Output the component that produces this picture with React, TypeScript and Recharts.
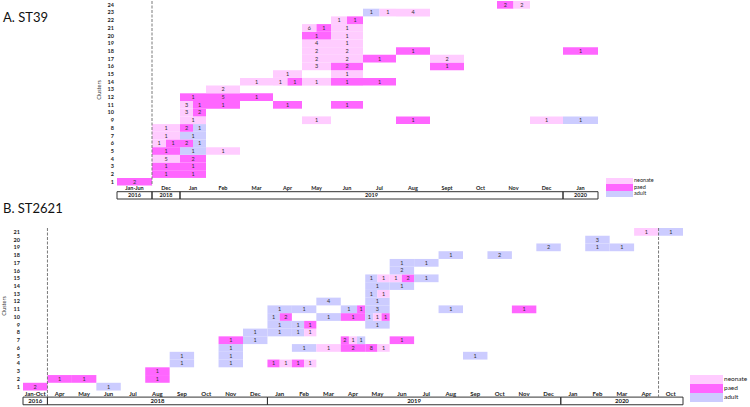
import { ReferenceArea, ReferenceLine, Scatter, ScatterChart, XAxis, YAxis } from "recharts";

type Group = "neonate" | "paed" | "adult";
// [cluster, month column, group, isolates, from, to] – from/to = share of the month (defaults to whole month)
type Cell = [number, number, Group, number, number?, number?];
// [label, first month column, column after the last month]
type Year = [string, number, number];

const FONT = "Lato, 'Open Sans', sans-serif";

const GROUPS: Group[] = ["neonate", "paed", "adult"];
const GROUP_COLORS: Record<Group, string> = {
  neonate: "#ffccff",
  paed: "#ff66ff",
  adult: "#ccccff"
};

// ---- ST39 ----
const MONTHS_ST39 = ["Jan-Jun", "Dec", "Jan", "Feb", "Mar", "Apr", "May", "Jun", "Jul", "Aug", "Sept", "Oct", "Nov", "Dec", "Jan"];
const YEARS_ST39: Year[] = [["2016", 0, 1], ["2018", 1, 2], ["2019", 2, 14], ["2020", 14, 15]];
const CLUSTERS_ST39 = [1, 2, 3, 4, 5, 6, 7, 8, 9, 10, 11, 12, 13, 14, 15, 16, 17, 18, 19, 20, 21, 22, 23, 24];
const CELLS_ST39: Cell[] = [
  [1, 0, "paed", 2],
  [2, 1, "paed", 1], [2, 2, "paed", 1],
  [3, 1, "paed", 1], [3, 2, "paed", 1],
  [4, 1, "neonate", 5], [4, 2, "paed", 2],
  [5, 1, "paed", 1], [5, 2, "adult", 1], [5, 3, "neonate", 1],
  [6, 1, "neonate", 1, 0, 0.5], [6, 1, "paed", 1, 0.5, 1], [6, 2, "paed", 2, 0, 0.5], [6, 2, "adult", 1, 0.5, 1],
  [7, 1, "neonate", 1], [7, 2, "adult", 1],
  [8, 1, "neonate", 1], [8, 2, "paed", 2, 0, 0.5], [8, 2, "adult", 1, 0.5, 1],
  [9, 2, "neonate", 1], [9, 6, "neonate", 1], [9, 9, "paed", 1], [9, 13, "neonate", 1], [9, 14, "adult", 1],
  [10, 2, "neonate", 3, 0, 0.5], [10, 2, "paed", 2, 0.5, 1],
  [11, 2, "neonate", 3, 0, 0.5], [11, 2, "paed", 1, 0.5, 1], [11, 3, "paed", 1], [11, 5, "paed", 1], [11, 7, "paed", 1],
  [12, 2, "paed", 1], [12, 3, "paed", 5], [12, 4, "paed", 1],
  [13, 3, "neonate", 2],
  [14, 4, "neonate", 1], [14, 5, "neonate", 1, 0, 0.5], [14, 5, "paed", 1, 0.5, 1], [14, 6, "neonate", 1], [14, 7, "paed", 1], [14, 8, "paed", 1],
  [15, 5, "neonate", 1], [15, 7, "neonate", 1],
  [16, 6, "neonate", 3], [16, 7, "paed", 2], [16, 10, "paed", 1],
  [17, 6, "neonate", 2], [17, 7, "neonate", 2], [17, 8, "paed", 1], [17, 10, "neonate", 2],
  [18, 6, "neonate", 2], [18, 7, "neonate", 2], [18, 9, "paed", 1], [18, 14, "paed", 1],
  [19, 6, "neonate", 4], [19, 7, "neonate", 1],
  [20, 6, "paed", 1], [20, 7, "neonate", 1],
  [21, 6, "neonate", 6, 0, 0.5], [21, 6, "paed", 1, 0.5, 1], [21, 7, "neonate", 1],
  [22, 7, "neonate", 1, 0, 0.5], [22, 7, "paed", 1, 0.5, 1],
  [23, 8, "adult", 1, 0, 0.5], [23, 8, "neonate", 1, 0.5, 1], [23, 9, "neonate", 4],
  [24, 12, "paed", 2, 0, 0.5], [24, 12, "neonate", 2, 0.5, 1]
];

// ---- ST2621 ----
const MONTHS_ST2621 = [
  "Jan-Oct", "Apr", "May", "Jun", "Jul", "Aug", "Sep", "Oct", "Nov", "Dec",
  "Jan", "Feb", "Mar", "Apr", "May", "Jun", "Jul", "Aug", "Sep", "Oct", "Nov", "Dec",
  "Jan", "Feb", "Mar", "Apr", "Oct"
];
const YEARS_ST2621: Year[] = [["2016", 0, 1], ["2018", 1, 10], ["2019", 10, 22], ["2020", 22, 27]];
const CLUSTERS_ST2621 = [1, 2, 3, 4, 5, 6, 7, 8, 9, 10, 11, 12, 13, 14, 15, 16, 17, 18, 19, 20, 21];
const CELLS_ST2621: Cell[] = [
  [1, 0, "paed", 2], [1, 3, "adult", 1],
  [2, 1, "paed", 1], [2, 2, "paed", 1], [2, 5, "paed", 1],
  [3, 5, "paed", 1],
  [4, 6, "adult", 1], [4, 8, "adult", 1], [4, 10, "paed", 1, 0, 0.5], [4, 10, "neonate", 1, 0.5, 1], [4, 11, "paed", 1, 0, 0.5], [4, 11, "neonate", 1, 0.5, 1],
  [5, 6, "adult", 1], [5, 8, "adult", 1], [5, 18, "adult", 1],
  [6, 8, "adult", 1], [6, 11, "adult", 1], [6, 12, "neonate", 1], [6, 13, "paed", 2], [6, 14, "paed", 8, 0, 0.5], [6, 14, "neonate", 1, 0.5, 1],
  [7, 8, "paed", 1], [7, 9, "adult", 1], [7, 13, "paed", 2, 0, 1 / 3], [7, 13, "neonate", 1, 1 / 3, 2 / 3], [7, 13, "adult", 1, 2 / 3, 1], [7, 15, "paed", 1],
  [8, 9, "adult", 1], [8, 10, "adult", 1], [8, 11, "adult", 1, 0, 0.5], [8, 11, "neonate", 1, 0.5, 1],
  [9, 10, "adult", 1], [9, 11, "adult", 1, 0, 0.5], [9, 11, "paed", 1, 0.5, 1], [9, 14, "adult", 1],
  [10, 10, "adult", 1, 0, 0.5], [10, 10, "paed", 2, 0.5, 1], [10, 12, "adult", 1], [10, 13, "paed", 1],
  [10, 14, "adult", 1, 0, 1 / 3], [10, 14, "neonate", 1, 1 / 3, 2 / 3], [10, 14, "paed", 1, 2 / 3, 1],
  [11, 10, "adult", 1], [11, 11, "adult", 1], [11, 13, "adult", 1, 0, 2 / 3], [11, 13, "paed", 1, 2 / 3, 1], [11, 14, "adult", 3], [11, 17, "adult", 1], [11, 20, "paed", 1],
  [12, 12, "adult", 4], [12, 14, "adult", 1],
  [13, 14, "adult", 1, 0, 0.5], [13, 14, "neonate", 1, 0.5, 1],
  [14, 14, "adult", 1], [14, 15, "adult", 1],
  [15, 14, "adult", 1, 0, 0.5], [15, 14, "neonate", 1, 0.5, 1], [15, 15, "neonate", 1, 0, 0.5], [15, 15, "paed", 2, 0.5, 1], [15, 16, "adult", 1],
  [16, 15, "adult", 2],
  [17, 15, "adult", 1], [17, 16, "adult", 1],
  [18, 17, "adult", 1], [18, 19, "adult", 2],
  [19, 21, "adult", 2], [19, 23, "adult", 1], [19, 24, "adult", 1],
  [20, 23, "adult", 3],
  [21, 25, "neonate", 1], [21, 26, "adult", 1]
];

interface PanelLayout {
  top: number;
  height: number;
  plotLeft: number;
  plotRight: number;
  colWidths: number[];
  monthRow: number;
  yearRow: [number, number];
  dividers: [number, number][]; // [column edge, where the dashes stop]
  monthFont: number;
}

const LAYOUT_ST39: PanelLayout = {
  top: 0,
  height: 202,
  plotLeft: 117,
  plotRight: 598,
  colWidths: [35, 28, 26, 34, 33, 29, 29, 32, 33, 34, 34, 33, 33, 33, 35],
  monthRow: 0.19,
  yearRow: [-0.29, -1.24],
  dividers: [[1, 0.5]],
  monthFont: 5.5
};

const LAYOUT_ST2621: PanelLayout = {
  top: 227,
  height: 180,
  plotLeft: 23,
  plotRight: 683,
  colWidths: MONTHS_ST2621.map(() => 1),
  monthRow: 0.08,
  yearRow: [-0.35, -1.34],
  dividers: [[1, -0.35], [26, -0.35]],
  monthFont: 6
};

interface PanelProps {
  months: string[];
  years: Year[];
  clusters: number[];
  cells: Cell[];
  layout: PanelLayout;
}

function CountText(props: any) {
  return (
    <text x={props.cx} y={props.cy} dy="0.35em" textAnchor="middle" fontSize={5.5} fill="#333" fontFamily={FONT}>
      {props.payload.n}
    </text>
  );
}

function ClusterPanel({ months, years, clusters, cells, layout }: PanelProps) {
  const { colWidths } = layout;
  const edges = colWidths.reduce<number[]>((acc, w) => [...acc, acc[acc.length - 1] + w], [0]);
  const xAt = (m: number, f: number) => edges[m] + f * colWidths[m];
  const top = clusters[clusters.length - 1] + 0.5;

  const boxes = cells.map(([cluster, m, group, n, from = 0, to = 1]) => {
    const x1 = xAt(m, from);
    const x2 = xAt(m, to);
    return { x1, x2, x: (x1 + x2) / 2, y: cluster, group, n };
  });
  const monthLabels = months.map((label, i) => ({ x: (edges[i] + edges[i + 1]) / 2, y: layout.monthRow, label }));

  return (
    <div style={{ position: "absolute", left: 0, top: layout.top }}>
      <ScatterChart
        width={750}
        height={layout.height}
        margin={{ top: 1, right: 750 - layout.plotRight, bottom: 1, left: 0 }}
      >
        <XAxis type="number" dataKey="x" domain={[0, edges[edges.length - 1]]} hide />
        <YAxis
          type="number"
          dataKey="y"
          domain={[-1.5, top]}
          ticks={clusters}
          interval={0}
          width={layout.plotLeft}
          axisLine={false}
          tickLine={false}
          tickSize={0}
          tickMargin={3}
          tick={{ fontSize: 5.5, fontWeight: 700, fill: "#222", fontFamily: FONT }}
        />
        {boxes.map((b, i) => (
          <ReferenceArea
            key={`c${i}`}
            x1={b.x1}
            x2={b.x2}
            y1={b.y - 0.5}
            y2={b.y + 0.5}
            fill={GROUP_COLORS[b.group]}
            fillOpacity={1}
            stroke="none"
          />
        ))}
        {years.map(([label, from, to]) => (
          <ReferenceArea
            key={`y${label}`}
            x1={edges[from]}
            x2={edges[to]}
            y1={layout.yearRow[1]}
            y2={layout.yearRow[0]}
            fill="#fff"
            fillOpacity={0}
            stroke="#333"
            strokeWidth={1}
            label={{ value: label, position: "center", fontSize: layout.monthFont, fontWeight: 700, fill: "#222", fontFamily: FONT }}
          />
        ))}
        {layout.dividers.map(([col, stop]) => (
          <ReferenceLine
            key={`d${col}`}
            segment={[{ x: edges[col], y: top }, { x: edges[col], y: stop }]}
            stroke="#7a7a7a"
            strokeDasharray="3 1.5"
          />
        ))}
        <Scatter data={boxes} shape={CountText} isAnimationActive={false} />
        <Scatter
          data={monthLabels}
          isAnimationActive={false}
          shape={(p: any) => (
            <text x={p.cx} y={p.cy} dy="0.35em" textAnchor="middle" fontSize={layout.monthFont} fontWeight={700} fill="#222" fontFamily={FONT}>
              {p.payload.label}
            </text>
          )}
        />
      </ScatterChart>
    </div>
  );
}

function GroupLegend({ left, top, w, h, fontSize }: { left: number; top: number; w: number; h: number; fontSize: number }) {
  return (
    <div style={{ position: "absolute", left, top, fontFamily: FONT }}>
      {GROUPS.map((g) => (
        <div key={g} style={{ display: "flex", alignItems: "center", height: h }}>
          <span style={{ width: w, height: h, background: GROUP_COLORS[g] }} />
          <span style={{ fontSize, lineHeight: 1, marginLeft: 1, color: "#222" }}>{g}</span>
        </div>
      ))}
    </div>
  );
}

export default function App() {
  return (
    <div style={{ position: "absolute", left: 0, top: 0, width: 750, height: 407, background: "#fff", overflow: "hidden" }}>
      <ClusterPanel months={MONTHS_ST39} years={YEARS_ST39} clusters={CLUSTERS_ST39} cells={CELLS_ST39} layout={LAYOUT_ST39} />
      <ClusterPanel months={MONTHS_ST2621} years={YEARS_ST2621} clusters={CLUSTERS_ST2621} cells={CELLS_ST2621} layout={LAYOUT_ST2621} />
      <GroupLegend left={606} top={177.5} w={27} h={6.5} fontSize={5.5} />
      <GroupLegend left={690} top={375} w={33} h={9} fontSize={6.5} />
      <svg width={750} height={407} style={{ position: "absolute", left: 0, top: 0, pointerEvents: "none" }}>
        <g fontFamily={FONT} fill="#111">
          <text x={3} y={21.7} fontSize={13}>A. ST39</text>
          <text x={3} y={213} fontSize={13}>B. ST2621</text>
        </g>
        <g fontFamily={FONT} fill="#333" fontSize={5.5} textAnchor="middle">
          <text transform="translate(99,90) rotate(-90)" dy="0.35em">Clusters</text>
          <text transform="translate(4,306) rotate(-90)" dy="0.35em">Clusters</text>
        </g>
      </svg>
    </div>
  );
}
